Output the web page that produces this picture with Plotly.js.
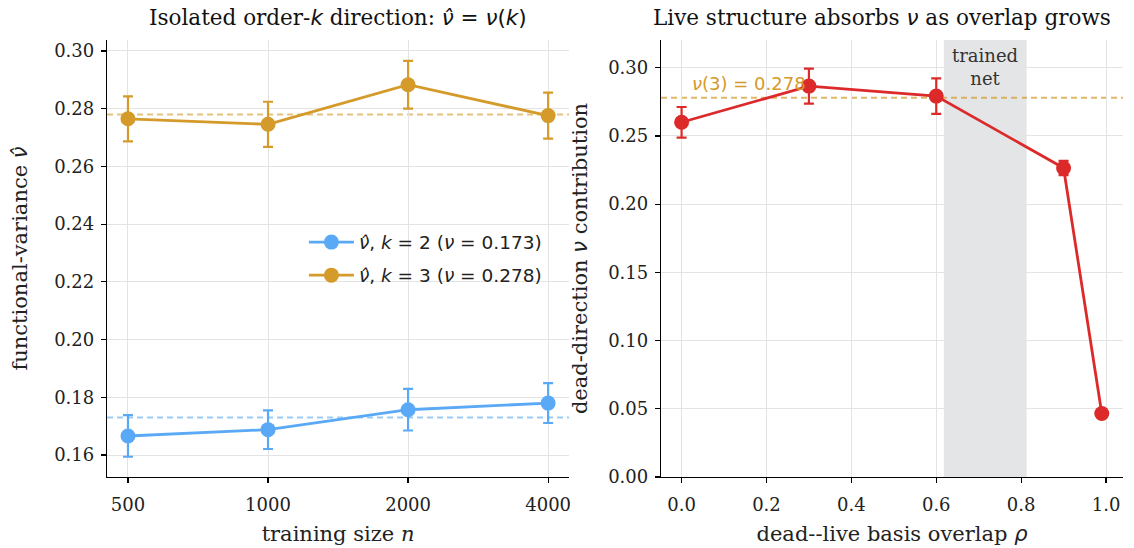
<!DOCTYPE html>
<html>
<head>
<meta charset="utf-8">
<script src="https://cdn.plot.ly/plotly-3.0.1.min.js"></script>
<style>html,body{margin:0;padding:0;background:#fff;}#plot{width:1134px;height:548px;}</style>
</head>
<body>
<div id="plot"></div>
<script>
// ---- Left panel data ----
const trainSizes = [500, 1000, 2000, 4000];
const nuHatK2 = [0.1666, 0.1688, 0.1757, 0.1780];
const errK2 = [0.0072, 0.0067, 0.0072, 0.0069];
const nuHatK3 = [0.2765, 0.2746, 0.2883, 0.2776];
const errK3 = [0.0078, 0.0078, 0.0083, 0.0080];
const nuTrueK2 = 0.173;
const nuTrueK3 = 0.278;
const sizeTicks = [500, 1000, 2000, 4000];
const sizeTickLabels = ['500', '1000', '2000', '4000'];

// ---- Right panel data ----
const overlap = [0.0, 0.3, 0.6, 0.9, 0.99];
const deadContribution = [0.260, 0.2865, 0.2792, 0.2265, 0.0465];
const deadErr = [0.0112, 0.0128, 0.0130, 0.0052, 0.0010];
const trainedNetBand = [0.618, 0.813];
const nu3 = 0.278;

const BLUE = '#5aa9f6';
const ORANGE = '#d49a2a';
const RED = '#dc2a2a';
const SERIF = 'DejaVu Serif, serif';
const SANS = 'DejaVu Sans, sans-serif';
const m = s => '<span style="font-family:DejaVu Sans;font-style:italic">' + s + '</span>';
const mu = s => '<span style="font-family:DejaVu Sans">' + s + '</span>';

const traces = [
  {
    x: trainSizes, y: nuHatK2, xaxis: 'x', yaxis: 'y', type: 'scatter', mode: 'lines+markers',
    name: m('ν̂') + mu(', ') + m('k') + mu(' = 2 (') + m('ν') + mu(' = 0.173)'), legendgroup: 'a',
    line: {color: BLUE, width: 2.8}, marker: {color: BLUE, size: 15},
    error_y: {type: 'data', array: errK2, color: BLUE, thickness: 2.2, width: 5}
  },
  {
    x: trainSizes, y: nuHatK3, xaxis: 'x', yaxis: 'y', type: 'scatter', mode: 'lines+markers',
    name: m('ν̂') + mu(', ') + m('k') + mu(' = 3 (') + m('ν') + mu(' = 0.278)'), legendgroup: 'b',
    line: {color: ORANGE, width: 2.8}, marker: {color: ORANGE, size: 15},
    error_y: {type: 'data', array: errK3, color: ORANGE, thickness: 2.2, width: 5}
  },
  {
    x: overlap, y: deadContribution, xaxis: 'x2', yaxis: 'y2', type: 'scatter', mode: 'lines+markers',
    showlegend: false,
    line: {color: RED, width: 2.8}, marker: {color: RED, size: 15},
    error_y: {type: 'data', array: deadErr, color: RED, thickness: 2.2, width: 5}
  }
];

const gridC = '#e3e3e3';
const axCommon = {
  showline: true, linecolor: '#000', linewidth: 1.2, ticks: 'outside', ticklen: 5, tickwidth: 1.2,
  tickcolor: '#000', showgrid: true, gridcolor: gridC, gridwidth: 1, zeroline: false,
  tickfont: {family: SERIF, size: 18, color: '#222'}, automargin: false, mirror: false
};
const titleFont = {family: SERIF, size: 21, color: '#222'};

const layout = {
  width: 1134, height: 548,
  margin: {l: 0, r: 0, t: 0, b: 0},
  paper_bgcolor: '#fff', plot_bgcolor: '#fff',
  showlegend: true,
  legend: {
    x: 0.268, y: 0.592, xanchor: 'left', yanchor: 'top', itemwidth: 45,
    bgcolor: 'rgba(255,255,255,0)', borderwidth: 0,
    font: {family: SANS, size: 18.5, color: '#222'}, tracegroupgap: 6
  },
  xaxis: Object.assign({}, axCommon, {
    domain: [0.0944, 0.5018], anchor: 'y', type: 'log',
    range: [2.654, 3.647], tickvals: sizeTicks, ticktext: sizeTickLabels, ticklabelstandoff: 6,
    title: {text: 'training size <i>n</i>', font: titleFont, standoff: 12}
  }),
  yaxis: Object.assign({}, axCommon, {
    domain: [0.1296, 0.927], anchor: 'x', range: [0.1524, 0.3038], ticklabelstandoff: 3,
    tickvals: [0.16, 0.18, 0.20, 0.22, 0.24, 0.26, 0.28, 0.30], tickformat: '.2f',
    title: {text: 'functional-variance ' + m('ν̂'), font: titleFont, standoff: 20}
  }),
  xaxis2: Object.assign({}, axCommon, {
    domain: [0.5829, 0.9903], anchor: 'y2', range: [-0.0485, 1.040], ticklabelstandoff: 6,
    tickvals: [0, 0.2, 0.4, 0.6, 0.8, 1.0], tickformat: '.1f',
    title: {text: 'dead--live basis overlap ' + m('ρ'), font: titleFont, standoff: 12}
  }),
  yaxis2: Object.assign({}, axCommon, {
    domain: [0.1296, 0.927], anchor: 'x2', range: [0, 0.3203], ticklabelstandoff: 3,
    tickvals: [0, 0.05, 0.10, 0.15, 0.20, 0.25, 0.30], tickformat: '.2f',
    title: {text: 'dead-direction ' + m('ν') + ' contribution', font: titleFont, standoff: 14}
  }),
  shapes: [
    {type: 'line', xref: 'x domain', yref: 'y', x0: 0, x1: 1, y0: nuTrueK2, y1: nuTrueK2,
     line: {color: BLUE, width: 2, dash: '6px,4px'}, opacity: 0.6, layer: 'below'},
    {type: 'line', xref: 'x domain', yref: 'y', x0: 0, x1: 1, y0: nuTrueK3, y1: nuTrueK3,
     line: {color: ORANGE, width: 2, dash: '6px,4px'}, opacity: 0.6, layer: 'below'},
    {type: 'rect', xref: 'x2', yref: 'y2 domain', x0: trainedNetBand[0], x1: trainedNetBand[1], y0: 0, y1: 1,
     fillcolor: '#e4e5e7', line: {width: 0}, layer: 'below'},
    {type: 'line', xref: 'x2 domain', yref: 'y2', x0: 0, x1: 1, y0: nu3, y1: nu3,
     line: {color: ORANGE, width: 2, dash: '6px,4px'}, opacity: 0.7, layer: 'below'}
  ],
  annotations: [
    {xref: 'paper', yref: 'paper', x: 0.298, y: 1 - 17/548, xanchor: 'center', yanchor: 'middle', showarrow: false,
     text: 'Isolated order-' + m('k') + ' direction: ' + m('ν̂') + mu(' = ') + m('ν') + mu('(') + m('k') + mu(')'),
     font: {family: SERIF, size: 21.5, color: '#111'}},
    {xref: 'paper', yref: 'paper', x: 0.778, y: 1 - 17/548, xanchor: 'center', yanchor: 'middle', showarrow: false,
     text: 'Live structure absorbs ' + m('ν') + ' as overlap grows',
     font: {family: SERIF, size: 21.5, color: '#111'}},
    {xref: 'x2', yref: 'y2', x: 0.02, y: nu3 + 0.001, xanchor: 'left', yanchor: 'bottom', showarrow: false,
     text: m('ν') + mu('(3) = 0.278'), font: {family: SANS, size: 18, color: ORANGE}},
    {xref: 'x2', yref: 'paper', x: (trainedNetBand[0] + trainedNetBand[1]) / 2, y: 1 - 43/548,
     xanchor: 'center', yanchor: 'top', showarrow: false,
     text: 'trained<br>net', font: {family: SERIF, size: 18, color: '#333'}}
  ]
};

Plotly.newPlot('plot', traces, layout, {displayModeBar: false, staticPlot: true});
</script>
</body>
</html>
